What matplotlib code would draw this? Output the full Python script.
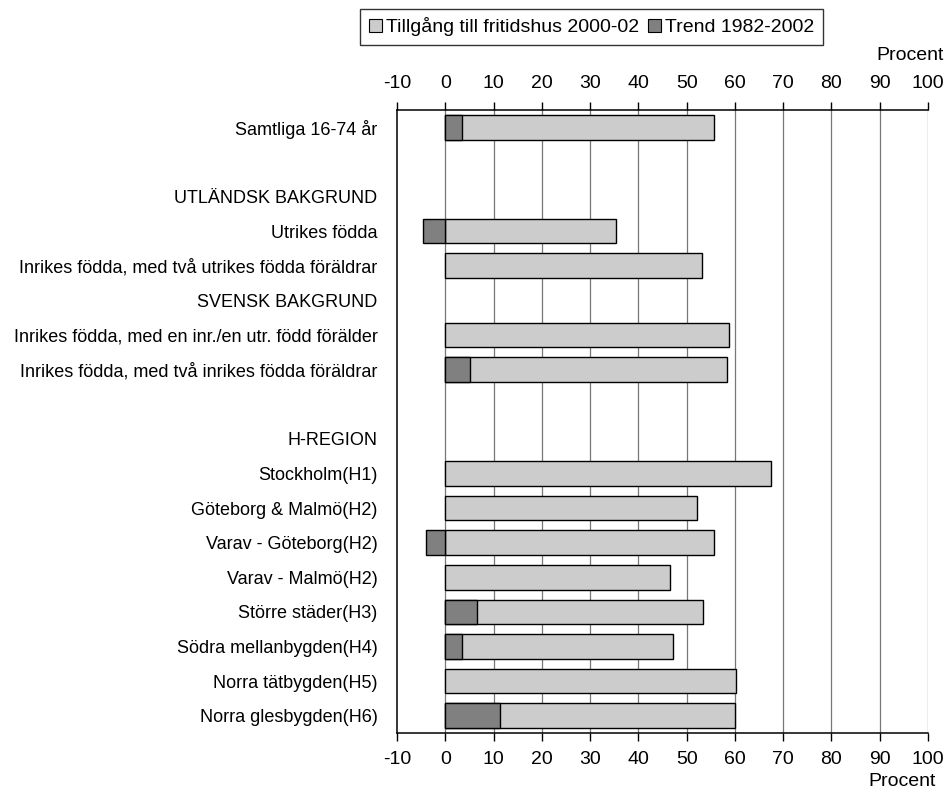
import numpy as np
import matplotlib
matplotlib.use("Agg")
import matplotlib.pyplot as plt
from matplotlib.patches import Patch

plt.rcParams["font.family"] = ["Liberation Sans", "DejaVu Sans"]

# Rows from top to bottom; None means no bar (heading or blank row)
labels = [
    "Samtliga 16-74 år",
    "",
    "UTLÄNDSK BAKGRUND",
    "Utrikes födda",
    "Inrikes födda, med två utrikes födda föräldrar",
    "SVENSK BAKGRUND",
    "Inrikes födda, med en inr./en utr. född förälder",
    "Inrikes födda, med två inrikes födda föräldrar",
    "",
    "H-REGION",
    "Stockholm(H1)",
    "Göteborg & Malmö(H2)",
    "Varav - Göteborg(H2)",
    "Varav - Malmö(H2)",
    "Större städer(H3)",
    "Södra mellanbygden(H4)",
    "Norra tätbygden(H5)",
    "Norra glesbygden(H6)",
]
tillgang = [55.7, None, None, 35.4, 53.1, None, 58.8, 58.4, None, None,
            67.4, 52.2, 55.7, 46.6, 53.4, 47.2, 60.3, 60.1]
trend = [3.4, None, None, -4.6, 0, None, 0, 5.2, None, None,
         0, 0, -4.1, 0, 6.5, 3.5, 0, 11.3]
xticks = list(range(-10, 101, 10))

light = "#cccccc"
dark = "#808080"

fig = plt.figure(figsize=(9.48, 7.92), dpi=100)
ax = fig.add_axes([0.4188, 0.0745, 0.5601, 0.7866])

ypos = np.arange(len(labels))
for y, val, tr in zip(ypos, tillgang, trend):
    if val is None:
        continue
    ax.barh(y, val, height=0.71, color=light, edgecolor="black", linewidth=1, zorder=3)
    if tr:
        ax.barh(y, tr, height=0.71, color=dark, edgecolor="black", linewidth=1, zorder=4)

ax.set_xlim(-10, 100)
ax.set_ylim(17.5, -0.5)
ax.set_xticks(xticks)
ax.set_xticklabels([str(t) for t in xticks], fontsize=14)
ax.tick_params(axis="x", top=True, labeltop=True, bottom=True, labelbottom=True,
               direction="out", length=6, width=1, pad=7)
ax.set_yticks(ypos)
ax.set_yticklabels(labels, fontsize=13)
ax.tick_params(axis="y", length=0, pad=14)

for t in xticks[1:]:
    ax.axvline(t, color="#777777", linewidth=0.9, zorder=1)

ax.spines["right"].set_visible(False)
for s in ["top", "bottom", "left"]:
    ax.spines[s].set_linewidth(1.1)

fig.text(0.995, 0.93, "Procent", ha="right", va="center", fontsize=14)
fig.text(0.987, 0.013, "Procent", ha="right", va="center", fontsize=14)

handles = [Patch(facecolor=light, edgecolor="black", linewidth=0.8),
           Patch(facecolor=dark, edgecolor="black", linewidth=0.8)]
leg = fig.legend(handles, ["Tillgång till fritidshus 2000-02", "Trend 1982-2002"],
                 loc="center", bbox_to_anchor=(0.624, 0.966), ncol=2, fontsize=14,
                 frameon=True, fancybox=False, handlelength=0.65, handleheight=0.65,
                 handletextpad=0.2, columnspacing=0.5, borderpad=0.45,
                 borderaxespad=0)
leg.get_frame().set_edgecolor("black")
leg.get_frame().set_linewidth(1)

fig.savefig("out.png", dpi=100)
